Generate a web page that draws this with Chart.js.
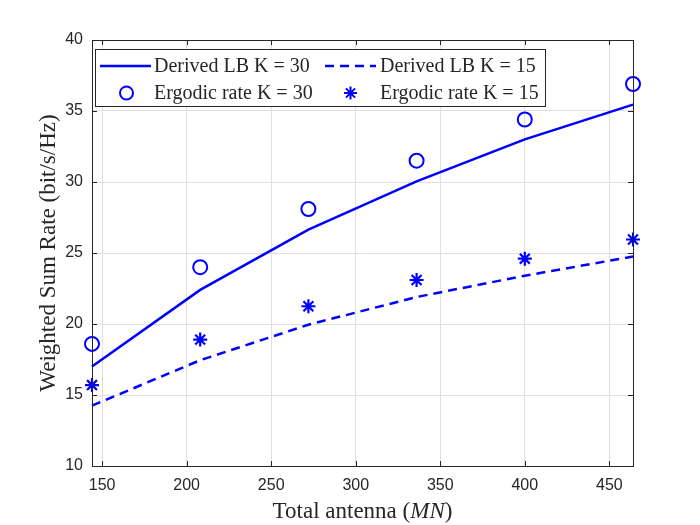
<!DOCTYPE html>
<html>
<head>
<meta charset="utf-8">
<script src="https://cdn.jsdelivr.net/npm/chart.js@4.4.1/dist/chart.umd.min.js"></script>
<style>
html,body{margin:0;padding:0;background:#fff;}
#wrap{width:700px;height:525px;}
</style>
</head>
<body>
<div id="wrap"><canvas id="c" width="700" height="525"></canvas></div>
<script>
const antennas = [144, 208, 272, 336, 400, 464];
const lbK30 = [17.0, 22.4, 26.65, 30.05, 33.0, 35.45];
const lbK15 = [14.25, 17.45, 19.95, 21.9, 23.4, 24.75];
const ergK30 = [18.6, 24.0, 28.1, 31.5, 34.4, 36.9];
const ergK15 = [15.7, 18.9, 21.25, 23.1, 24.6, 25.95];
const xTicks = [150, 200, 250, 300, 350, 400, 450];
const yTicks = [10, 15, 20, 25, 30, 35, 40];
const labels = ['Derived LB K = 30', 'Derived LB K = 15', 'Ergodic rate K = 30', 'Ergodic rate K = 15'];
const xTitle = ['Total antenna (', 'MN', ')'];
const yTitle = 'Weighted Sum Rate (bit/s/Hz)';

const BLUE = '#0000ff';
const AX = '#262626';
const pts = arr => arr.map((v, i) => ({x: antennas[i], y: v}));

const frame = {
  id: 'frame',
  afterDatasetsDraw(chart) {
    const {ctx, chartArea: a, scales: {x, y}} = chart;
    ctx.save();
    ctx.strokeStyle = AX;
    ctx.lineWidth = 1;
    ctx.beginPath();
    xTicks.forEach(t => {
      const px = Math.round(x.getPixelForValue(t)) + 0.5;
      ctx.moveTo(px, a.bottom); ctx.lineTo(px, a.bottom - 5);
      ctx.moveTo(px, a.top); ctx.lineTo(px, a.top + 5);
    });
    yTicks.forEach(t => {
      const py = Math.round(y.getPixelForValue(t)) + 0.5;
      ctx.moveTo(a.left, py); ctx.lineTo(a.left + 5, py);
      ctx.moveTo(a.right, py); ctx.lineTo(a.right - 5, py);
    });
    ctx.stroke();
    ctx.strokeRect(Math.round(a.left) + 0.5, Math.round(a.top) + 0.5, Math.round(a.right - a.left), Math.round(a.bottom - a.top));
    ctx.restore();
  },
  afterDraw(chart) {
    const {ctx, chartArea: a} = chart;
    ctx.save();
    // axis titles
    ctx.fillStyle = AX;
    ctx.textBaseline = 'middle';
    const nf = '23px "Liberation Serif", "Times New Roman", serif';
    const itf = 'italic 23px "Liberation Serif", "Times New Roman", serif';
    ctx.font = nf; const w0 = ctx.measureText(xTitle[0]).width; const w2 = ctx.measureText(xTitle[2]).width;
    ctx.font = itf; const w1 = ctx.measureText(xTitle[1]).width;
    let sx = (a.left + a.right) / 2 - (w0 + w1 + w2) / 2;
    const ty = 512;
    ctx.textAlign = 'left';
    ctx.font = nf; ctx.fillText(xTitle[0], sx, ty); sx += w0;
    ctx.font = itf; ctx.fillText(xTitle[1], sx, ty); sx += w1;
    ctx.font = nf; ctx.fillText(xTitle[2], sx, ty);
    ctx.save();
    ctx.translate(49, (a.top + a.bottom) / 2);
    ctx.rotate(-Math.PI / 2);
    ctx.textAlign = 'center';
    ctx.font = nf;
    ctx.fillText(yTitle, 0, 0);
    ctx.restore();

    // legend
    const lx = 95, ly = 49, lw = 450, lh = 57;
    ctx.fillStyle = '#fff';
    ctx.fillRect(lx, ly, lw, lh);
    ctx.strokeStyle = AX; ctx.lineWidth = 1;
    ctx.strokeRect(lx + 0.5, ly + 0.5, lw, lh);
    const rows = [66, 93];
    const cols = [{s: 100, e: 151, t: 154}, {s: 325, e: 376, t: 380}];
    ctx.strokeStyle = BLUE; ctx.lineWidth = 2.5;
    ctx.beginPath(); ctx.moveTo(cols[0].s, rows[0]); ctx.lineTo(cols[0].e, rows[0]); ctx.stroke();
    ctx.setLineDash([9, 6]);
    ctx.beginPath(); ctx.moveTo(cols[1].s, rows[0]); ctx.lineTo(cols[1].e, rows[0]); ctx.stroke();
    ctx.setLineDash([]);
    ctx.lineWidth = 2;
    ctx.beginPath(); ctx.arc(126.5, rows[1], 6.5, 0, Math.PI * 2); ctx.stroke();
    const cx = 350.5, cy = rows[1], r = 6.5;
    ctx.beginPath();
    for (let k = 0; k < 4; k++) {
      const ang = k * Math.PI / 4;
      ctx.moveTo(cx - r * Math.cos(ang), cy - r * Math.sin(ang));
      ctx.lineTo(cx + r * Math.cos(ang), cy + r * Math.sin(ang));
    }
    ctx.stroke();
    ctx.fillStyle = AX;
    ctx.font = '20px "Liberation Serif", "Times New Roman", serif';
    ctx.textAlign = 'left'; ctx.textBaseline = 'middle';
    ctx.fillText(labels[0], cols[0].t, rows[0] + 1);
    ctx.fillText(labels[1], cols[1].t, rows[0] + 1);
    ctx.fillText(labels[2], cols[0].t, rows[1] + 1);
    ctx.fillText(labels[3], cols[1].t, rows[1] + 1);
    ctx.restore();
  }
};

new Chart(document.getElementById('c'), {
  type: 'line',
  data: {
    datasets: [
      {label: labels[0], data: pts(lbK30), borderColor: BLUE, borderWidth: 2.5, pointRadius: 0, fill: false, tension: 0, clip: false},
      {label: labels[1], data: pts(lbK15), borderColor: BLUE, borderWidth: 2.5, borderDash: [9, 6], pointRadius: 0, fill: false, tension: 0, clip: false},
      {label: labels[2], data: pts(ergK30), showLine: false, borderColor: BLUE, backgroundColor: 'rgba(0,0,0,0)', pointStyle: 'circle', pointRadius: 7, pointBorderWidth: 2, clip: false},
      {label: labels[3], data: pts(ergK15), showLine: false, borderColor: BLUE, backgroundColor: 'rgba(0,0,0,0)', pointStyle: 'star', pointRadius: 7, pointBorderWidth: 2.2, clip: false}
    ]
  },
  options: {
    responsive: false,
    animation: false,
    devicePixelRatio: 1,
    layout: {padding: {top: 40, right: 67, bottom: 0, left: 0}},
    plugins: {legend: {display: false}, tooltip: {enabled: false}},
    scales: {
      x: {
        type: 'linear', min: 144, max: 464,
        afterBuildTicks: s => { s.ticks = xTicks.map(v => ({value: v})); },
        afterFit: s => { s.height = 59; },
        grid: {color: '#dfdfdf', lineWidth: 1, drawTicks: false},
        border: {display: false},
        ticks: {color: AX, padding: 10, maxRotation: 0, font: {family: '"Liberation Sans", Arial, sans-serif', size: 16}}
      },
      y: {
        type: 'linear', min: 10, max: 40,
        afterBuildTicks: s => { s.ticks = yTicks.map(v => ({value: v})); },
        afterFit: s => { s.width = 92; },
        grid: {color: '#dfdfdf', lineWidth: 1, drawTicks: false},
        border: {display: false},
        ticks: {color: AX, padding: 9, font: {family: '"Liberation Sans", Arial, sans-serif', size: 16}}
      }
    }
  },
  plugins: [frame]
});
</script>
</body>
</html>
